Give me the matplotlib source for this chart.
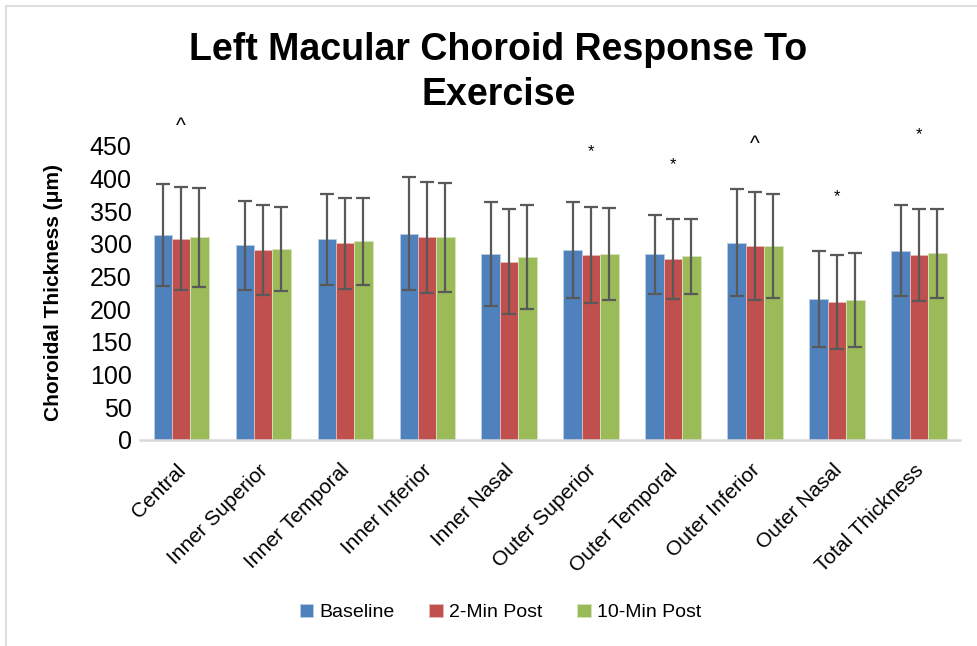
import numpy as np
import matplotlib
matplotlib.use("Agg")
import matplotlib.pyplot as plt
from matplotlib.lines import Line2D
from matplotlib.transforms import ScaledTranslation

plt.rcParams['font.family'] = ['Liberation Sans', 'DejaVu Sans']

regions = ["Central", "Inner Superior", "Inner Temporal", "Inner Inferior",
           "Inner Nasal", "Outer Superior", "Outer Temporal", "Outer Inferior",
           "Outer Nasal", "Total Thickness"]

baseline = [314, 298, 307, 316, 285, 291, 284, 302, 216, 290]
post2 = [308, 291, 301, 310, 273, 283, 277, 297, 211, 283]
post10 = [310, 292, 304, 310, 280, 285, 281, 297, 214, 286]

baseline_sd = [78, 68, 70, 86, 80, 74, 61, 82, 73, 70]
post2_sd = [79, 69, 70, 85, 80, 74, 61, 82, 72, 71]
post10_sd = [76, 64, 67, 83, 80, 70, 58, 80, 72, 68]

# significance marks: (region index, symbol, height in um)
marks = [(0, "^", 480), (5, "*", 441), (6, "*", 422),
         (7, "^", 452), (8, "*", 372), (9, "*", 467)]

series = [("Baseline", baseline, baseline_sd, "#4F81BD", "#B9CDE5"),
          ("2-Min Post", post2, post2_sd, "#C0504D", "#E6B9B8"),
          ("10-Min Post", post10, post10_sd, "#9BBB59", "#D7E4BD")]

fig = plt.figure(figsize=(9.77, 6.46), dpi=100)
ax = fig.add_axes([0.1433, 0.3189, 0.8393, 0.4551])

x = np.arange(len(regions))
w = 0.2236
for i, (name, vals, sd, col, edge) in enumerate(series):
    pos = x + (i - 1) * w
    ax.bar(pos, vals, w, color=col, edgecolor=edge, linewidth=0.6, label=name, zorder=2)
    ax.errorbar(pos, vals, yerr=sd, fmt="none", ecolor="#595959", elinewidth=1.6,
                capsize=5, capthick=1.6, zorder=3)

for idx, sym, h in marks:
    ax.text(idx, h, sym, ha="center", va="center",
            fontsize=15 if sym == "^" else 12, clip_on=False)

ax.set_xlim(-0.5, len(regions) - 0.5)
ax.set_ylim(0, 450)
ax.set_yticks(range(0, 451, 50))
ax.tick_params(axis="y", length=0, labelsize=18, pad=6)
ax.tick_params(axis="x", length=0, pad=15)
ax.set_xticks(x)
ax.set_xticklabels(regions, rotation=45, ha="right", va="top",
                   rotation_mode="anchor", fontsize=15)
shift = ScaledTranslation(-5 / 100, 0, fig.dpi_scale_trans)
for lab in ax.get_xticklabels():
    lab.set_transform(lab.get_transform() + shift)
for s in ["top", "right", "left"]:
    ax.spines[s].set_visible(False)
ax.spines["bottom"].set_color("#D9D9D9")
ax.spines["bottom"].set_linewidth(1.8)
ax.set_ylabel("Choroidal Thickness (μm)", fontsize=15, fontweight="bold", labelpad=19)

fig.text(0.51, 0.888, "Left Macular Choroid Response To\nExercise", ha="center",
         va="center", fontsize=27, fontweight="bold", linespacing=1.3)

fig.legend(loc="center", bbox_to_anchor=(0.512, 0.052), ncol=3, frameon=False,
           fontsize=14, handlelength=0.7, handleheight=0.7, handletextpad=0.3,
           columnspacing=1.8)

# chart border (only left and top edges are in view)
fig.add_artist(Line2D([0.0065, 0.0065], [0, 0.991], color="#D9D9D9", lw=1.2,
                      transform=fig.transFigure))
fig.add_artist(Line2D([0.0065, 1], [0.991, 0.991], color="#D9D9D9", lw=1.2,
                      transform=fig.transFigure))

fig.savefig("out.png", dpi=100)
